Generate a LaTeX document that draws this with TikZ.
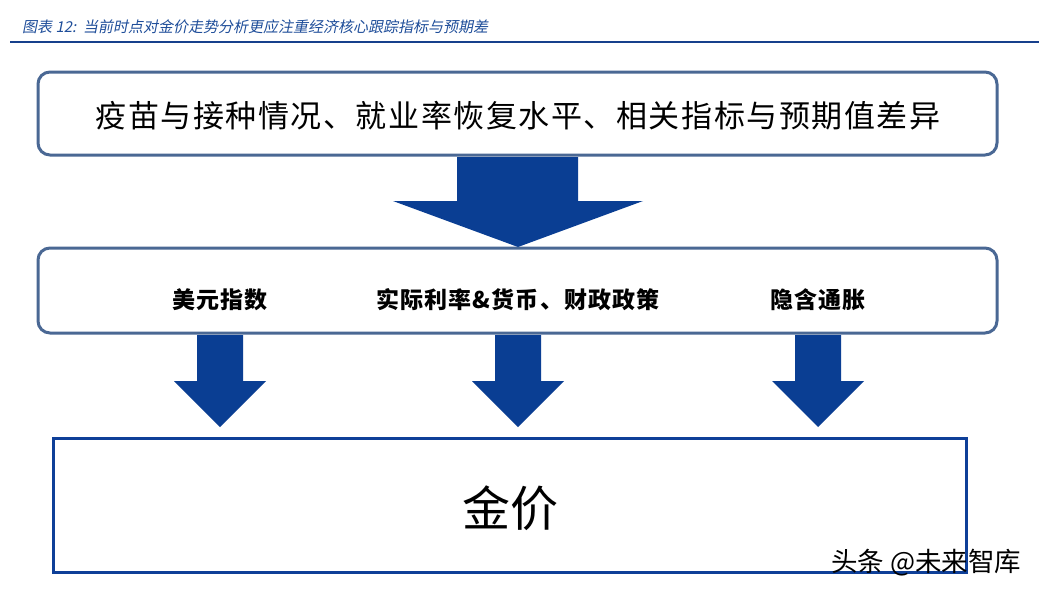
\documentclass[tikz,border=0pt]{standalone}
\usepackage{fontspec}
\usepackage{tikz}
\newfontfamily\cjk{Noto Sans CJK SC}
\newfontfamily\cjkwide[LetterSpace=5]{Noto Sans CJK SC}
\newfontfamily\cjktitle[FakeSlant=0.2]{Noto Sans CJK SC}
\definecolor{titleblue}{HTML}{1F4E9A}
\definecolor{ruleblue}{HTML}{17408C}
\definecolor{boxline}{HTML}{4A6894}
\definecolor{arrowblue}{HTML}{0A3E93}
\definecolor{goldline}{HTML}{0E3F98}

\begin{document}
\begin{tikzpicture}[x=1pt,y=-1pt]
\tikzstyle{roundbox}=[rectangle,rounded corners=12pt,draw=boxline,line width=3pt,fill=white,minimum width=959pt,inner sep=0pt,outer sep=0pt]
\tikzstyle{factor}=[font=\cjkwide\bfseries\fontsize{23}{26}\selectfont,inner sep=0pt]
\tikzstyle{blockarrow}=[fill=arrowblue]
\useasboundingbox[fill=white] (0,0) rectangle (1039,595);
% caption
\node[anchor=west,text=titleblue,font=\cjktitle\fontsize{15}{18}\selectfont,inner sep=0pt] (caption) at (22,27) {图表 12:\ \ 当前时点对金价走势分析更应注重经济核心跟踪指标与预期差};
\coordinate (rulestart) at (10,42);
\coordinate (ruleend) at (1039,42);
\draw[ruleblue,line width=2.5pt] (rulestart) -- (ruleend);
% boxes
\node[roundbox,minimum height=83pt] (tracking) at (517.5,113.5) {};
\node[font=\cjkwide\fontsize{31}{34}\selectfont,inner sep=0pt] (trackingtext) at (518,116) {疫苗与接种情况、就业率恢复水平、相关指标与预期值差异};
\node[roundbox,minimum height=85pt] (drivers) at (517.5,290.5) {};
\node[factor] (usd) at (220,300) {美元指数};
\node[factor] (policy) at (518,300) {实际利率\&货币、财政政策};
\node[factor] (inflation) at (818,300) {隐含通胀};
\node[rectangle,draw=goldline,line width=3pt,minimum width=913pt,minimum height=134pt,inner sep=0pt,outer sep=0pt] (gold) at (509.5,505) {};
\node[font=\cjk\fontsize{48}{52}\selectfont,inner sep=0pt] (goldtext) at (510,508) {金价};
% block arrows
\fill[blockarrow] (457,157) -- (578,157) -- (578,201) -- (643,201) -- (518,247) -- (393,201) -- (457,201) -- cycle;
\fill[blockarrow] (197,335) -- (243,335) -- (243,381) -- (266,381) -- (220,427) -- (174,381) -- (197,381) -- cycle;
\fill[blockarrow] (495,335) -- (541,335) -- (541,381) -- (564,381) -- (518,427) -- (472,381) -- (495,381) -- cycle;
\fill[blockarrow] (795,335) -- (841,335) -- (841,381) -- (864,381) -- (818,427) -- (772,381) -- (795,381) -- cycle;
% watermark
\node[font=\cjk\fontsize{26.5}{30}\selectfont,inner sep=0pt,anchor=west] (mark) at (831,563) {头条 @未来智库};
\end{tikzpicture}
\end{document}
